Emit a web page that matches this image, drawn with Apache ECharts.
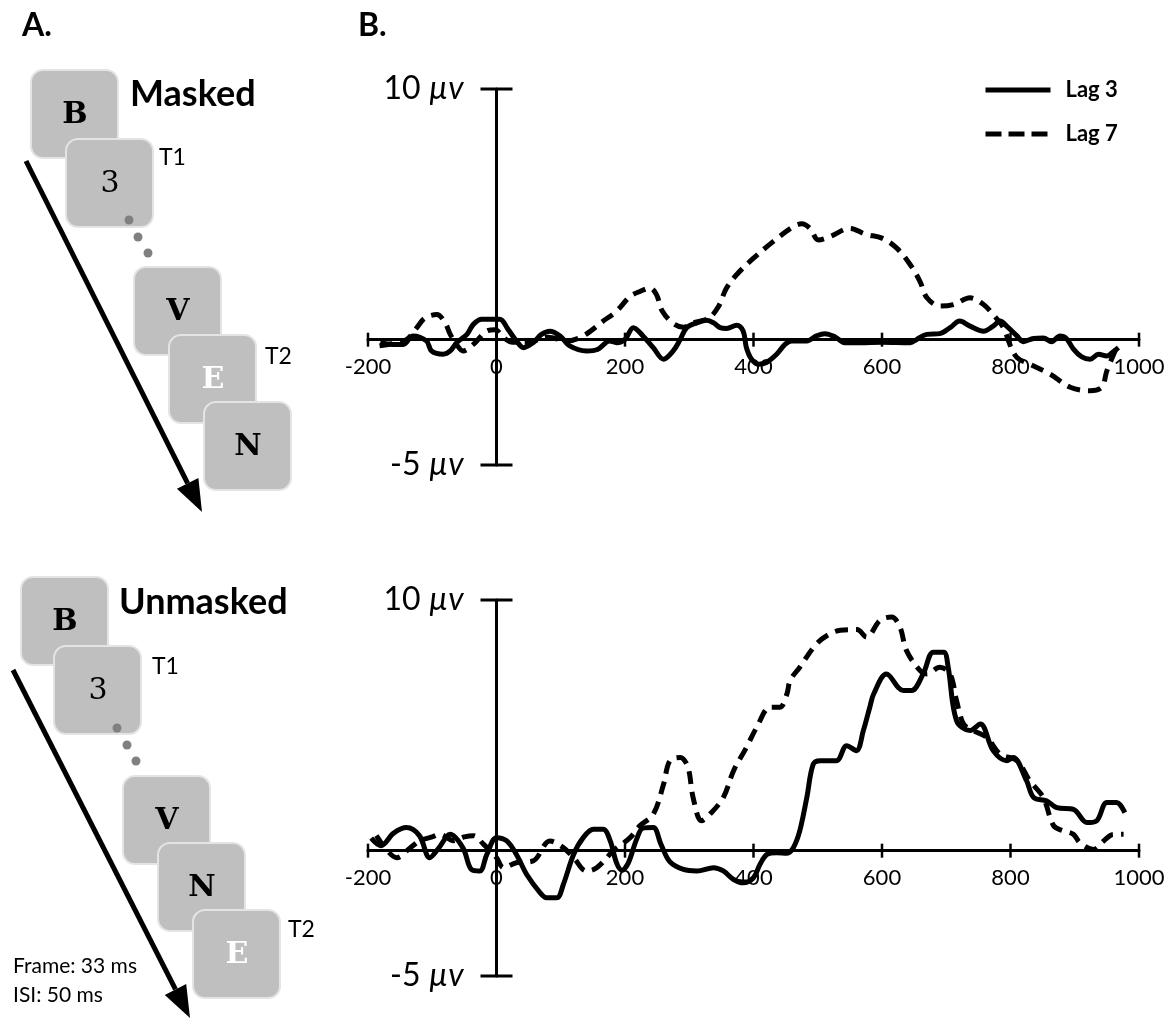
<!DOCTYPE html>
<html>
<head>
<meta charset="utf-8">
<script src="https://cdn.jsdelivr.net/npm/echarts@6/dist/echarts.min.js"></script>
<style>
  html, body { margin: 0; padding: 0; background: #fff; }
  #chart { width: 1167px; height: 1019px; }
</style>
</head>
<body>
<div id="chart"></div>
<script>
// axis values
const xTicks = [-200, 0, 200, 400, 600, 800, 1000]
const yCaps = [-5, 10]

// masked condition: [ms, µV]
const maskedLag3 = [
  [-181, -0.12], [-161, -0.19], [-145, -0.19], [-130, 0.15], [-109, -0.05], [-101, -0.45],
  [-83, -0.58], [-72, -0.45], [-62, -0.12], [-46, 0.21], [-36, 0.61], [-23, 0.81], [5, 0.81],
  [18, 0.41], [31, -0.05], [42, -0.32], [57, -0.12], [70, 0.21], [83, 0.34], [99, 0.15],
  [114, -0.25], [140, -0.45], [158, -0.38], [176, -0.05], [187, -0.12], [200, 0.01], [213, 0.48],
  [228, 0.15], [244, -0.32], [260, -0.78], [275, -0.45], [286, 0.01], [296, 0.48], [312, 0.67],
  [327, 0.77], [338, 0.67], [348, 0.48], [358, 0.45], [374, 0.58], [384, 0.34], [389, -0.32],
  [397, -0.78], [408, -0.98], [420, -0.91], [436, -0.58], [449, -0.19], [459, -0.05], [483, -0.05],
  [498, 0.15], [511, 0.24], [527, 0.11], [542, -0.12], [566, -0.12], [600, -0.1], [644, -0.12],
  [654, 0.01], [670, 0.21], [690, 0.24], [706, 0.48], [721, 0.74], [737, 0.54], [758, 0.34],
  [773, 0.54], [784, 0.74], [794, 0.54], [810, 0.15], [820, -0.08], [836, 0.05], [851, 0.07],
  [864, -0.08], [877, 0.15], [887, 0.05], [898, -0.38], [911, -0.69], [924, -0.78], [937, -0.58],
  [950, -0.65], [960, -0.48], [968, -0.32]
]
const maskedLag7 = [
  [-182, -0.24], [-160, -0.15], [-140, 0.0], [-124, 0.48], [-111, 0.87], [-93, 1.0], [-80, 0.67],
  [-72, 0.21], [-62, -0.2], [-52, -0.45], [-36, -0.19], [-15, 0.35], [-2, 0.4], [10, 0.1],
  [25, -0.1], [50, -0.1], [80, 0.1], [110, -0.05], [135, 0.15], [166, 0.74], [187, 1.14],
  [208, 1.73], [224, 1.93], [239, 2.06], [249, 1.8], [258, 1.14], [275, 0.65], [291, 0.5],
  [310, 0.7], [330, 0.85], [345, 1.3], [358, 2.06], [374, 2.6], [400, 3.25], [431, 3.92],
  [462, 4.51], [475, 4.62], [488, 4.44], [501, 3.98], [519, 4.11], [550, 4.44], [575, 4.2],
  [600, 4.05], [623, 3.65], [644, 2.99], [659, 2.33], [670, 1.67], [690, 1.34], [711, 1.4],
  [737, 1.67], [758, 1.4], [773, 1.0], [789, 0.48], [799, -0.19], [810, -0.71], [830, -0.98],
  [862, -1.38], [893, -1.9], [924, -2.04], [942, -1.9], [950, -1.24], [965, -0.32]
]

// unmasked condition: [ms, µV]
const unmaskedLag3 = [
  [-195, 0.5], [-180, 0.2], [-160, 0.7], [-140, 0.92], [-120, 0.6], [-104, -0.28], [-90, 0.1],
  [-72, 0.65], [-52, 0.1], [-39, -0.75], [-26, -0.81], [-15, -0.15], [0, 0.52], [16, 0.39],
  [31, -0.15], [47, -0.95], [68, -1.68], [78, -1.88], [94, -1.88], [104, -1.35], [120, -0.15],
  [135, 0.52], [151, 0.85], [166, 0.85], [177, 0.39], [187, -0.5], [195, -0.78], [205, -0.5],
  [218, 0.45], [228, 0.9], [244, 0.92], [256, 0.25], [270, -0.45], [291, -0.75], [312, -0.81],
  [338, -0.68], [353, -0.81], [369, -1.15], [384, -1.28], [400, -1.08], [410, -0.55], [421, -0.15],
  [436, -0.08], [452, -0.1], [462, 0.12], [472, 0.79], [483, 2.12], [493, 3.45], [504, 3.59],
  [529, 3.59], [545, 4.19], [560, 3.99], [571, 4.79], [581, 5.72], [587, 6.25], [607, 7.05],
  [633, 6.39], [646, 6.39], [664, 7.05], [680, 7.92], [696, 7.92], [703, 7.32], [716, 5.19],
  [737, 4.79], [753, 5.05], [773, 3.99], [794, 3.59], [804, 3.72], [825, 2.79], [836, 2.12],
  [856, 1.99], [872, 1.72], [898, 1.65], [919, 1.12], [934, 1.19], [950, 1.92], [965, 1.92],
  [978, 1.52]
]
const unmaskedLag7 = [
  [-187, 0.6], [-170, 0.0], [-155, -0.28], [-135, 0.1], [-119, 0.4], [-100, 0.55], [-88, 0.65],
  [-67, 0.4], [-50, 0.55], [-36, 0.6], [-20, 0.25], [0, -0.28], [11, -0.68], [31, -0.48],
  [57, -0.41], [83, 0.39], [104, 0.12], [120, -0.28], [140, -0.81], [156, -0.68], [182, 0.0],
  [208, 0.52], [223, 0.99], [244, 1.45], [260, 2.65], [270, 3.59], [286, 3.72], [298, 3.32],
  [306, 2.12], [319, 1.19], [332, 1.45], [353, 2.12], [369, 3.19], [389, 4.12], [405, 4.92],
  [426, 5.72], [441, 5.72], [452, 6.25], [457, 6.79], [472, 7.32], [498, 8.25], [519, 8.65],
  [535, 8.79], [561, 8.82], [576, 8.52], [597, 9.19], [615, 9.32], [628, 8.92], [638, 7.99],
  [659, 7.19], [670, 7.05], [690, 7.32], [706, 7.05], [716, 5.99], [727, 5.05], [742, 4.79],
  [763, 4.52], [784, 3.85], [810, 3.59], [830, 2.79], [851, 2.12], [867, 1.0], [882, 0.79],
  [898, 0.65], [908, 0.32], [929, 0.05], [945, 0.39], [960, 0.65], [976, 0.65]
]

const chart = echarts.init(document.getElementById('chart'))

const FONT = 'Lato'
const CARD = '#bfbfbf'
const DASH = [13, 8]

// ----- panel A: stimulus streams -----
function stream(cards, dots, arrow, texts) {
  const els = []
  cards.forEach(c => {
    els.push({
      type: 'rect',
      shape: { x: c.x, y: c.y, width: 87, height: 88, r: 12 },
      style: { fill: CARD, stroke: '#e4e4e4', lineWidth: 2 }
    })
    els.push({
      type: 'text', x: c.x + 44, y: c.y + 45,
      style: {
        text: c.t, fill: c.white ? '#fff' : '#000',
        fontFamily: 'DejaVu Serif', fontSize: 30, fontWeight: c.t === '3' ? 'normal' : 'bold',
        align: 'center', verticalAlign: 'middle'
      }
    })
  })
  dots.forEach(d => {
    els.push({ type: 'circle', shape: { cx: d[0], cy: d[1], r: 4.5 }, style: { fill: '#808080' } })
  })
  // arrow: shaft + head
  const [x1, y1, x2, y2] = arrow
  const len = Math.hypot(x2 - x1, y2 - y1)
  const ux = (x2 - x1) / len, uy = (y2 - y1) / len
  const bx = x2 - ux * 32, by = y2 - uy * 32
  els.push({ type: 'line', shape: { x1, y1, x2: bx, y2: by }, style: { stroke: '#000', lineWidth: 5 } })
  els.push({
    type: 'polygon',
    shape: { points: [[x2, y2], [bx - uy * 12, by + ux * 12], [bx + uy * 12, by - ux * 12]] },
    style: { fill: '#000' }
  })
  texts.forEach(t => {
    els.push({
      type: 'text', x: t[0], y: t[1],
      style: {
        text: t[2], fill: '#000', fontFamily: FONT, fontSize: t[3],
        fontWeight: t[4] || 'normal', align: 'left', verticalAlign: 'middle'
      }
    })
  })
  return els
}

const graphic = [
  { type: 'text', x: 22, y: 26, style: { text: 'A.', fontFamily: FONT, fontSize: 32, fontWeight: 'bold', fill: '#000', verticalAlign: 'middle' } },
  { type: 'text', x: 358, y: 26, style: { text: 'B.', fontFamily: FONT, fontSize: 32, fontWeight: 'bold', fill: '#000', verticalAlign: 'middle' } },
  ...stream(
    [{ x: 31, y: 70, t: 'B' }, { x: 66, y: 139, t: '3' }, { x: 134, y: 267, t: 'V' },
     { x: 169, y: 335, t: 'E', white: true }, { x: 204, y: 402, t: 'N' }],
    [[129, 220], [138, 237], [148, 253]],
    [26, 161, 202, 512],
    [[130, 94, 'Masked', 36, 'bold'], [159, 158, 'T1', 23], [265, 357, 'T2', 23]]
  ),
  ...stream(
    [{ x: 21, y: 577, t: 'B' }, { x: 54, y: 646, t: '3' }, { x: 123, y: 776, t: 'V' },
     { x: 158, y: 843, t: 'N' }, { x: 193, y: 910, t: 'E', white: true }],
    [[117, 728], [127, 745], [136, 761]],
    [13, 670, 190, 1018],
    [[119, 602, 'Unmasked', 36, 'bold'], [152, 667, 'T1', 23], [288, 930, 'T2', 23],
     [13, 966, 'Frame: 33 ms', 21], [13, 995, 'ISI: 50 ms', 21]]
  )
]

// ----- panel B: ERP plots -----
const grids = [
  { left: 368, width: 771, top: 89, height: 376 },
  { left: 368, width: 771, top: 600, height: 376 }
]

const xAxes = grids.map((g, i) => ({
  gridIndex: i, type: 'value', min: -200, max: 1000, interval: 200,
  axisLine: { onZero: true, lineStyle: { color: '#000', width: 3 } },
  axisTick: { show: false },
  splitLine: { show: false },
  axisLabel: { show: false }
}))

const yAxes = grids.map((g, i) => ({
  gridIndex: i, type: 'value', min: -5, max: 10,
  axisLine: { onZero: true, lineStyle: { color: '#000', width: 3 } },
  axisTick: { show: false },
  splitLine: { show: false },
  axisLabel: { show: false }
}))

// x ticks cross the zero line, with their labels below it
function tickSeries(i) {
  return {
    type: 'custom', xAxisIndex: i, yAxisIndex: i, clip: false, silent: true, z: 1,
    data: xTicks.map(v => [v, 0]),
    renderItem: (p, api) => {
      const v = api.value(0)
      const c = api.coord([v, 0])
      return {
        type: 'group',
        children: [
          { type: 'line', shape: { x1: c[0], y1: c[1] - 7, x2: c[0], y2: c[1] + 7 }, style: { stroke: '#000', lineWidth: 2.5 } },
          { type: 'text', x: c[0], y: c[1] + 27, style: { text: String(v), fill: '#000', fontFamily: FONT, fontSize: 22, align: 'center', verticalAlign: 'middle' } }
        ]
      }
    }
  }
}

// caps at the ends of the voltage axis, with µV labels
function capSeries(i) {
  return {
    type: 'custom', xAxisIndex: i, yAxisIndex: i, clip: false, silent: true, z: 1,
    data: yCaps.map(v => [0, v]),
    renderItem: (p, api) => {
      const v = api.value(1)
      const c = api.coord([0, v])
      return {
        type: 'group',
        children: [
          { type: 'line', shape: { x1: c[0] - 16, y1: c[1], x2: c[0] + 16, y2: c[1] }, style: { stroke: '#000', lineWidth: 3 } },
          {
            type: 'text', x: c[0] - 33, y: c[1],
            style: {
              text: '{n|' + v + ' }{u|µv}', align: 'right', verticalAlign: 'middle',
              rich: {
                n: { fontFamily: FONT, fontSize: 32, fill: '#000' },
                u: { fontFamily: FONT, fontSize: 32, fontStyle: 'italic', fill: '#000' }
              }
            }
          }
        ]
      }
    }
  }
}

function erp(name, data, dashed, i) {
  return {
    type: 'line', name, data, xAxisIndex: i, yAxisIndex: i,
    symbol: 'none', smooth: 0.35, silent: true, z: 3,
    lineStyle: { color: '#000', width: 5, type: dashed ? DASH : 'solid' },
    itemStyle: { color: '#000' }
  }
}

chart.setOption({
  animation: false,
  backgroundColor: '#fff',
  graphic,
  grid: grids,
  xAxis: xAxes,
  yAxis: yAxes,
  legend: {
    data: [
      { name: 'Lag 3', lineStyle: { width: 5, type: 'solid' } },
      { name: 'Lag 7', lineStyle: { width: 5, type: [16, 7] } }
    ],
    orient: 'vertical', left: 978, top: 74,
    itemWidth: 65, itemHeight: 20, itemGap: 22,
    itemStyle: { opacity: 0 },
    textStyle: { fontFamily: FONT, fontSize: 22, fontWeight: 'bold', color: '#000', padding: [0, 0, 0, 10] }
  },
  series: [
    tickSeries(0), capSeries(0), tickSeries(1), capSeries(1),
    erp('Lag 3', maskedLag3, false, 0),
    erp('Lag 7', maskedLag7, true, 0),
    erp('Lag 3', unmaskedLag3, false, 1),
    erp('Lag 7', unmaskedLag7, true, 1)
  ]
})

window.addEventListener('resize', () => chart.resize())
</script>
</body>
</html>
